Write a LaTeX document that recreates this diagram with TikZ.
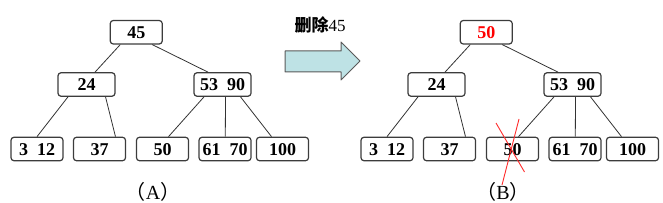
\documentclass[tikz,border=0pt]{standalone}
\usepackage{fontspec}
\setmainfont{Liberation Serif}
\newfontfamily\cjkfont{Noto Sans CJK SC}
\definecolor{boxline}{HTML}{3C3C3C}
\definecolor{edge}{HTML}{333333}
\definecolor{arrowfill}{HTML}{BEE2E5}
\definecolor{arrowline}{HTML}{5A5A5A}
\definecolor{crossred}{HTML}{FF2A2A}

\begin{document}
\begin{tikzpicture}[x=1pt,y=-1pt,line join=round,
  key/.style={draw=boxline,line width=1.2pt,rounded corners=3pt,fill=white,
    minimum width=52pt,minimum height=23.5pt,inner sep=0pt,
    text height=12pt,text depth=0pt,font={\fontsize{18}{20}\selectfont\bfseries}},
  wide/.style={key,minimum width=57pt},
  link/.style={edge,line width=0.8pt},
  cross/.style={crossred,line width=0.9pt},
  treelbl/.style={anchor=base,font={\fontsize{20}{22}\selectfont}}]
  \useasboundingbox (0,0) rectangle (663,203);

  % ===== the two trees, (B) is (A) moved right =====
  \foreach \t/\dx/\top in {A/0/45, B/350/{\textcolor{red}{50}}}{
    \begin{scope}[xshift=\dx pt]
      \node[key]  (\t-r)  at (136.25,32.25) {\top};
      \node[wide] (\t-n1) at (86.5,84.5) {24};
      \node[wide] (\t-n2) at (222.5,84.5) {53\ \ 90};
      \node[key]  (\t-l1) at (37,149) {3\ \ 12};
      \node[key]  (\t-l2) at (99.5,149) {37};
      \node[key]  (\t-l3) at (162.5,149) {50};
      \node[key]  (\t-l4) at (225,149) {61\ \ 70};
      \node[key]  (\t-l5) at (282.5,149) {100};
      \node[treelbl] (\t-lbl) at (153,199) {{\cjkfont （}\t{\cjkfont ）}};
    \end{scope}
    \draw[link] ([xshift=-16pt]\t-r.south) -- ([xshift=8.5pt]\t-n1.north);
    \draw[link] ([xshift=16pt]\t-r.south) -- ([xshift=-14.5pt]\t-n2.north);
    \draw[link] ([xshift=-18.5pt]\t-n1.south) -- (\t-l1.north);
    \draw[link] ([xshift=19pt]\t-n1.south) -- ([xshift=16pt]\t-l2.north);
    \draw[link] ([xshift=-18.5pt]\t-n2.south) -- ([xshift=6pt]\t-l3.north);
    \draw[link] ([xshift=3pt]\t-n2.south) -- ([xshift=0.3pt]\t-l4.north);
    \draw[link] ([xshift=18pt]\t-n2.south) -- ([xshift=-11pt]\t-l5.north);
  }

  % ===== deleted key crossed out =====
  \draw[cross] ([shift={(-16.5,-26)}]B-l3.center) -- ([shift={(12,23)}]B-l3.center);
  \draw[cross] ([shift={(6.5,-30)}]B-l3.center) -- ([shift={(-10.5,36)}]B-l3.center);

  % ===== block arrow =====
  \draw[fill=arrowfill,draw=arrowline,line width=1pt]
    (285,51) -- (341,51) -- (341,42) -- (360,61) -- (341,80) -- (341,72) -- (285,72) -- cycle;
  \node[anchor=base,font={\fontsize{17}{19}\selectfont}] (del) at (320,31.5)
    {{\cjkfont\bfseries 删除}45};
\end{tikzpicture}
\end{document}
